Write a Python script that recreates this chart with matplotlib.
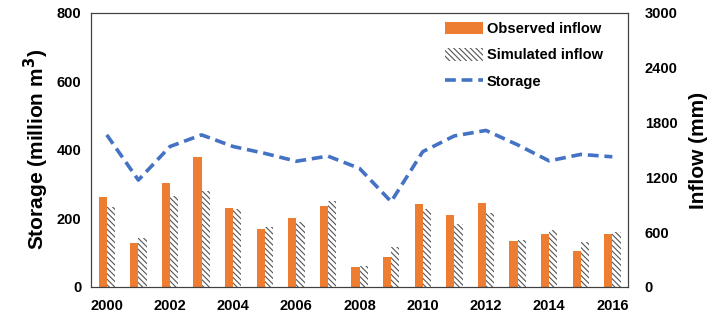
import matplotlib.pyplot as plt
import numpy as np

years = list(range(2000, 2017))
observed_inflow = [981, 476, 1134, 1420, 863, 637, 750, 889, 220, 326,
                   904, 787, 915, 501, 578, 395, 578]
simulated_inflow = [878, 534, 995, 1050, 853, 659, 706, 937, 234, 439,
                    853, 684, 812, 512, 626, 487, 600]
storage = [444, 312, 410, 444, 410, 390, 367, 382, 346, 249,
           395, 441, 457, 415, 368, 387, 380]

plt.rcParams['font.family'] = 'Liberation Sans'
plt.rcParams['font.weight'] = 'bold'
plt.rcParams['hatch.linewidth'] = 0.8
plt.rcParams['hatch.color'] = '#555555'

fig = plt.figure(figsize=(7.22, 3.15), dpi=100)
ax1 = fig.add_axes([0.126, 0.089, 0.744, 0.870])
ax2 = ax1.twinx()

x = np.arange(len(years))
w = 0.26

ax2.bar(x - w / 2, observed_inflow, w, color='#ED7D31', label='Observed inflow')
ax2.bar(x + w / 2, simulated_inflow, w, color='white', hatch='\\\\\\\\\\\\',
        linewidth=0, label='Simulated inflow')
ax1.plot(x, storage, color='#4472C4', linestyle=(0, (3, 1.6)), linewidth=2.6,
         label='Storage')
ax1.set_zorder(ax2.get_zorder() + 1)
ax1.patch.set_visible(False)

ax1.set_xlim(-0.5, len(years) - 0.5)
ax1.set_ylim(0, 800)
ax2.set_ylim(0, 3000)
ax1.set_yticks(range(0, 801, 200))
ax2.set_yticks(range(0, 3001, 600))
ax1.set_xticks(x[::2])
ax1.set_xticklabels([str(y) for y in years[::2]])

ax1.tick_params(length=0, labelsize=10.5, pad=7)
ax2.tick_params(length=0, labelsize=10.5, pad=12)
ax1.tick_params(axis='x', pad=9)

ax1.set_ylabel('Storage (million m$^\\mathbf{3}$)', fontsize=15, fontweight='bold', labelpad=4)
ax2.set_ylabel('Inflow (mm)', fontsize=15, fontweight='bold', labelpad=8)

for sp in ax1.spines.values():
    sp.set_color('#404040')
for sp in ax2.spines.values():
    sp.set_color('#404040')

h1, l1 = ax2.get_legend_handles_labels()
h2, l2 = ax1.get_legend_handles_labels()
ax1.legend(h1 + h2, l1 + l2, loc='upper left', bbox_to_anchor=(0.635, 1.015),
           frameon=False, fontsize=10.5, handlelength=2.6, handleheight=0.9,
           labelspacing=0.85, handletextpad=0.25)

fig.savefig('out.png', dpi=100)
